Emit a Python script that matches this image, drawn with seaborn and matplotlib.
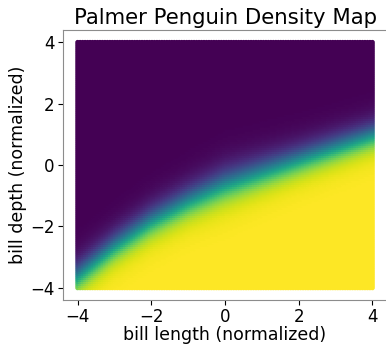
import numpy as np
import pandas as pd
import matplotlib
matplotlib.use("Agg")
import matplotlib.pyplot as plt
import seaborn as sns

# Values: boundary (p=0.5) depth at each length, and spread
knot_length = [-4, -3, -2, -1, 0, 1, 2, 3, 4]
boundary_depth = [-3.6, -2.62, -1.8, -1.15, -0.6, -0.2, 0.2, 0.6, 1.0]
spread = [0.28, 0.28, 0.29, 0.3, 0.32, 0.3, 0.28, 0.27, 0.26]
grid_length = np.linspace(-4, 4, 120)
grid_depth = np.linspace(-4, 4, 120)

X, Y = np.meshgrid(grid_length, grid_depth)
b = np.interp(X, knot_length, boundary_depth)
w = np.interp(X, knot_length, spread)
P = 1 / (1 + np.exp(-(b - Y) / w))
df = pd.DataFrame({"x": X.ravel(), "y": Y.ravel(), "p": P.ravel()})

sns.set_style("white")
plt.rcParams.update({"text.color": "black", "axes.labelcolor": "black",
                     "xtick.color": "black", "ytick.color": "black"})
fig = plt.figure(figsize=(3.86, 3.45), dpi=100)
ax = fig.add_axes([0.163, 0.13, 0.84, 0.783])
sns.scatterplot(data=df, x="x", y="y", hue="p", palette="viridis", hue_norm=(0, 1),
                s=12, linewidth=0, legend=False, ax=ax)
ax.set_title("Palmer Penguin Density Map", fontsize=15.3, pad=4)
ax.set_xlabel("bill length (normalized)", fontsize=12.5, labelpad=0)
ax.set_ylabel("bill depth (normalized)", fontsize=12.5, labelpad=2)
ax.set_xticks([-4, -2, 0, 2, 4])
ax.set_yticks([-4, -2, 0, 2, 4])
ax.tick_params(labelsize=12, length=3.5, width=0.8, pad=2.5, left=True, bottom=True)
for s in ax.spines.values():
    s.set_color("0.55")
ax.spines["right"].set_visible(False)
fig.savefig("out.png", dpi=100)
